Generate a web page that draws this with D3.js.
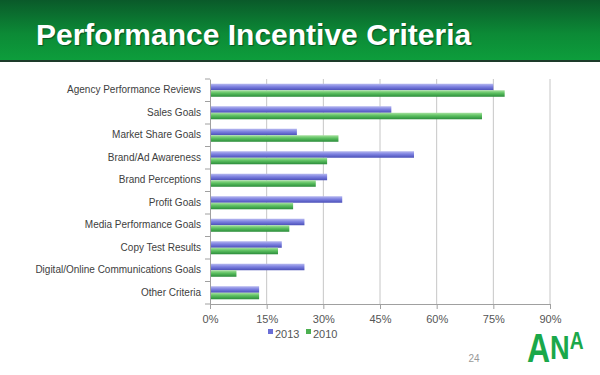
<!DOCTYPE html>
<html lang="en">
<head>
<meta charset="utf-8">
<script src="https://d3js.org/d3.v7.min.js"></script>
<style>
  html, body { margin: 0; padding: 0; background: #fff; }
  svg { display: block; font-family: "Liberation Sans", Arial, sans-serif; }
</style>
</head>
<body>
<svg id="chart" width="600" height="375"></svg>
<script>
// chart data
var categories = ["Agency Performance Reviews", "Sales Goals", "Market Share Goals", "Brand/Ad Awareness",
                  "Brand Perceptions", "Profit Goals", "Media Performance Goals", "Copy Test Results",
                  "Digital/Online Communications Goals", "Other Criteria"];
var series = ["2013", "2010"];
var values2013 = [75, 48, 23, 54, 31, 35, 25, 19, 25, 13];
var values2010 = [78, 72, 34, 31, 28, 22, 21, 18, 7, 13];
var ticks = [0, 15, 30, 45, 60, 75, 90];

var svg = d3.select("#chart");
var defs = svg.append("defs");

// title bar gradient
var tg = defs.append("linearGradient").attr("id", "titleGrad")
    .attr("x1", 0).attr("y1", 0).attr("x2", 0).attr("y2", 1);
tg.append("stop").attr("offset", "0%").attr("stop-color", "#0a5a2a");
tg.append("stop").attr("offset", "55%").attr("stop-color", "#0c8a36");
tg.append("stop").attr("offset", "100%").attr("stop-color", "#0d9e3c");

// bar gradients
function barGrad(id, top, mid, bot) {
  var g = defs.append("linearGradient").attr("id", id)
      .attr("x1", 0).attr("y1", 0).attr("x2", 0).attr("y2", 1);
  g.append("stop").attr("offset", "0%").attr("stop-color", top);
  g.append("stop").attr("offset", "45%").attr("stop-color", mid);
  g.append("stop").attr("offset", "100%").attr("stop-color", bot);
}
barGrad("blueGrad", "#b7b9f0", "#7d81e0", "#4a4fb8");
barGrad("greenGrad", "#a8e2a0", "#5cc060", "#2a8c3a");

svg.append("rect").attr("x", 0).attr("y", 0).attr("width", 600).attr("height", 61)
    .attr("fill", "url(#titleGrad)");
svg.append("rect").attr("x", 0).attr("y", 60).attr("width", 600).attr("height", 2)
    .attr("fill", "#1d3b2a");
svg.append("text").attr("x", 36).attr("y", 45)
    .attr("fill", "#fff").attr("font-size", 30).attr("font-weight", "bold")
    .style("text-shadow", "1px 1px 1px rgba(0,0,0,0.4)")
    .text("Performance Incentive Criteria");

var margin = { left: 210, top: 79 };
var innerW = 340, innerH = 225;

var x = d3.scaleLinear().domain([0, 90]).range([0, innerW]);
var y = d3.scaleBand().domain(categories).range([0, innerH]).paddingInner(0.42).paddingOuter(0.21);
var sub = d3.scaleBand().domain(series).range([0, y.bandwidth()]);
var colors = { "2013": "url(#blueGrad)", "2010": "url(#greenGrad)" };
var legendColors = { "2013": "#6a6ed6", "2010": "#4cb050" };

var g = svg.append("g").attr("transform", "translate(" + margin.left + "," + margin.top + ")");

// gridlines
g.selectAll(".grid").data(ticks.slice(1)).enter().append("line")
    .attr("x1", d => x(d)).attr("x2", d => x(d))
    .attr("y1", 0).attr("y2", innerH)
    .attr("stroke", "#c6c6c6").attr("stroke-width", 1);

var rows = categories.map(function (c, i) {
  return { cat: c, vals: [{ s: "2013", v: values2013[i] }, { s: "2010", v: values2010[i] }] };
});

var grp = g.selectAll(".cat").data(rows).enter().append("g")
    .attr("transform", d => "translate(0," + y(d.cat) + ")");
grp.selectAll("rect").data(d => d.vals).enter().append("rect")
    .attr("x", 0)
    .attr("y", d => sub(d.s))
    .attr("width", d => x(d.v))
    .attr("height", sub.bandwidth())
    .attr("fill", d => colors[d.s]);

// y axis
var yAxis = g.append("g")
    .call(d3.axisLeft(y).tickSize(0).tickPadding(9));
yAxis.select(".domain").attr("stroke", "#a0a0a0");
yAxis.selectAll("text").attr("fill", "#404040").attr("font-size", 10)
    .attr("font-family", "Liberation Sans, Arial, sans-serif");
// boundary ticks between categories
var step = innerH / categories.length;
g.selectAll(".ytick").data(d3.range(categories.length + 1)).enter().append("line")
    .attr("x1", -5).attr("x2", 0)
    .attr("y1", d => d * step).attr("y2", d => d * step)
    .attr("stroke", "#a0a0a0");

// x axis
var xAxis = g.append("g").attr("transform", "translate(0," + innerH + ")")
    .call(d3.axisBottom(x).tickValues(ticks).tickFormat(d => d + "%").tickSize(5).tickSizeOuter(0).tickPadding(6));
xAxis.select(".domain").attr("stroke", "#a0a0a0");
xAxis.selectAll("line").attr("stroke", "#a0a0a0");
xAxis.selectAll("text").attr("fill", "#555").attr("font-size", 11)
    .attr("font-family", "Liberation Sans, Arial, sans-serif");

// legend
var leg = svg.append("g").attr("transform", "translate(268,333)");
var li = leg.selectAll("g").data(series).enter().append("g")
    .attr("transform", (d, i) => "translate(" + (i * 38) + ",0)");
li.append("rect").attr("x", 0).attr("y", -4).attr("width", 5).attr("height", 5)
    .attr("fill", d => legendColors[d]);
li.append("text").attr("x", 7).attr("y", 1.5).attr("dy", "0.32em")
    .attr("font-size", 11).attr("fill", "#555").text(d => d);

// page number
svg.append("text").attr("x", 474).attr("y", 362).attr("text-anchor", "middle")
    .attr("font-size", 10).attr("fill", "#999").text("24");

// ANA logo, one text with condensed letters
var logo = svg.append("text")
    .attr("transform", "translate(527,362) scale(0.8,1)")
    .attr("fill", "#1aa84a").attr("font-weight", "bold")
    .attr("font-family", "Liberation Sans, Arial, sans-serif");
logo.append("tspan").attr("font-size", 40).text("A");
logo.append("tspan").attr("font-size", 34).attr("dy", -3).text("N");
logo.append("tspan").attr("font-size", 24).attr("dy", -10).text("A");
</script>
</body>
</html>
